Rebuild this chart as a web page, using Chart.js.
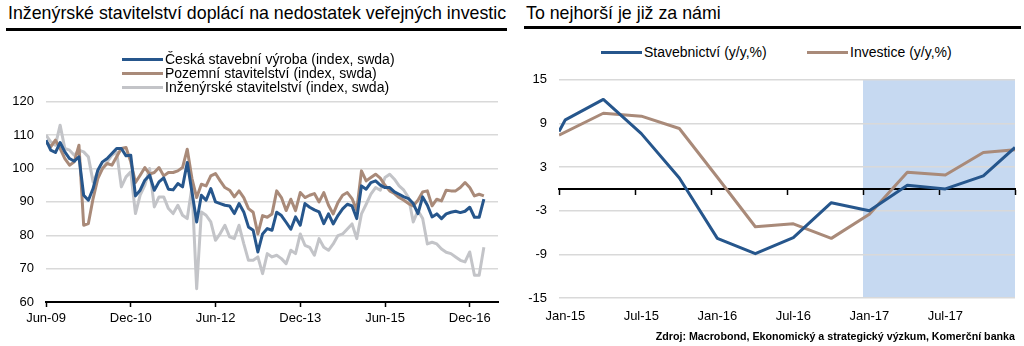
<!DOCTYPE html>
<html>
<head>
<meta charset="utf-8">
<script src="https://cdn.jsdelivr.net/npm/chart.js@4.4.1/dist/chart.umd.min.js"></script>
<style>
  body { margin: 0; width: 1024px; height: 346px; background: #fff; position: relative; overflow: hidden;
         font-family: "Liberation Sans", Arial, sans-serif; color: #000; }
  .title { position: absolute; top: 3px; font-size: 17.8px; line-height: 20px; white-space: nowrap; }
  .rule { position: absolute; height: 3px; background: #000; }
  .leg { position: absolute; font-size: 14px; line-height: 14px; height: 14px; white-space: nowrap; }
  .leg i { position: absolute; left: 0; top: 6px; width: 41px; height: 3px; }
  .leg span { position: absolute; left: 43px; top: 0; }
  .box { position: absolute; }
  .src { position: absolute; right: 9px; top: 330px; font-size: 10.7px; font-weight: bold; line-height: 12px; white-space: nowrap; }
</style>
</head>
<body>
<div class="title" style="left:8px">Inženýrské stavitelství doplácí na nedostatek veřejných investic</div>
<div class="rule" style="left:6px;width:501px;top:28px"></div>
<div class="title" style="left:526px">To nejhorší je již za námi</div>
<div class="rule" style="left:524px;width:497px;top:26px"></div>

<div class="box" style="left:0;top:82px"><canvas id="left" width="512" height="264"></canvas></div>
<div class="box" style="left:512px;top:60px"><canvas id="right" width="512" height="286"></canvas></div>
<div id="legends"></div>
<div class="src">Zdroj: Macrobond, Ekonomický a strategický výzkum, Komerční banka</div>

<script>
// left chart: monthly, Jun-09 .. Mar-17 (index, swda)
const leftTickLabels = ["Jun-09", "Dec-10", "Jun-12", "Dec-13", "Jun-15", "Dec-16"];
const leftTickMonths = [0, 18, 36, 54, 72, 90];
const leftMonthsShown = 96;

const ceska = [
  108.5, 105.5, 104.8, 107.8, 105.0, 103.0, 102.2, 103.5, 92.0, 90.5,
  94.0, 99.5, 102.0, 103.0, 104.5, 106.0, 106.0, 103.8, 104.0, 91.8,
  93.5, 96.5, 98.0, 93.5, 96.0, 97.2, 93.8, 93.6, 95.5, 94.5,
  101.8, 93.0, 84.0, 92.0, 90.5, 94.0, 90.0, 89.5, 89.0, 88.8,
  86.5, 89.5, 87.0, 82.5, 81.5, 75.0, 80.4, 82.0, 81.5, 86.9,
  85.9, 83.9, 81.8, 85.5, 83.0, 89.5, 88.4, 87.6, 87.0, 83.5,
  86.4, 83.4, 85.9, 87.9, 89.3, 88.8, 85.0, 94.8, 93.8, 95.8,
  96.3, 95.0, 94.3, 94.3, 93.0, 92.3, 91.5, 91.0, 89.5, 86.5,
  91.5, 89.0, 85.5, 86.4, 85.0, 86.4, 86.9, 87.2, 86.8, 87.2,
  88.4, 85.4, 85.4, 90.8
];
const pozemni = [
  108.0, 106.5, 108.5, 106.0, 103.0, 101.0, 102.0, 107.0, 83.0, 83.5,
  91.0, 97.0, 100.0, 101.5, 101.0, 103.5, 106.0, 106.3, 102.0, 95.8,
  98.0, 100.3, 98.3, 98.8, 100.3, 97.8, 98.8, 98.8, 99.3, 100.3,
  105.8, 97.0, 91.3, 95.3, 94.8, 97.8, 98.5, 96.3, 94.3, 93.5,
  91.5, 93.3, 91.3, 88.0, 86.9, 80.4, 85.9, 85.4, 86.4, 93.3,
  91.3, 87.4, 90.8, 87.4, 92.8, 91.3, 92.0, 92.5, 90.0, 92.8,
  89.0, 86.4, 89.8, 92.0, 92.8, 91.0, 87.5, 99.3, 96.3, 97.3,
  98.3, 97.1, 95.0, 93.3, 92.5, 91.3, 90.5, 89.5, 88.8, 90.5,
  93.0, 93.3, 88.8, 90.8, 90.3, 93.5, 93.3, 93.3, 94.3, 95.8,
  94.3, 91.8, 92.3, 91.8
];
const inzenyrske = [
  110.0, 108.0, 107.0, 113.0, 106.0, 105.5, 104.0, 105.5, 105.0, 103.5,
  96.0, 99.0, 100.0, 102.0, 104.0, 105.0, 94.5, 97.5, 99.0, 86.5,
  92.0, 95.0, 100.0, 88.5, 91.5, 91.5, 88.0, 86.5, 89.0, 86.0,
  85.0, 94.5, 64.0, 87.0, 86.0, 84.0, 78.5, 80.5, 83.0, 79.5,
  79.0, 83.0, 77.5, 72.5, 72.5, 73.5, 68.5, 74.5, 73.5, 74.0,
  73.0, 71.5, 75.5, 74.5, 80.4, 77.0, 76.4, 74.0, 79.0, 76.4,
  75.5, 77.4, 79.9, 80.4, 81.9, 83.4, 79.0, 86.4, 89.3, 92.3,
  94.3, 93.5, 97.3, 98.3, 96.8, 94.8, 93.5, 91.3, 84.0, 87.4,
  85.0, 77.4, 77.9, 77.4, 75.9, 74.9, 74.5, 73.5, 72.5, 72.0,
  75.0, 68.0, 68.0, 76.4
];

// right chart: quarterly y/y %, x = months since Jan-15
const rightMonths   = [0, 0.5, 3.5, 6.5, 9.5, 12.5, 15.5, 18.5, 21.5, 24.5, 27.5, 30.5, 33.5, 36];
const stavebnictvi  = [7.9, 9.5, 12.3, 7.6, 1.5, -6.8, -8.9, -6.7, -1.9, -3.0, 0.5, 0.0, 1.8, 5.7];
const investice     = [7.4, null, 10.4, 10.0, 8.3, 1.6, -5.2, -4.8, -6.8, -3.5, 2.3, 1.9, 5.0, 5.4];
const rightTickLabels = ["Jan-15", "Jul-15", "Jan-16", "Jul-16", "Jan-17", "Jul-17"];
const rightLabelMonths = [0.5, 6.5, 12.5, 18.5, 24.5, 30.5];
const rightTickMonths = [0, 6, 12, 18, 24, 30, 36];
const forecastFrom = 24;

const BLUE = "#26568c", BROWN = "#a98a79", GREY = "#c3c4c8";
const GRID = "#d9d9d9", SHADE = "#c6d9f1";

Chart.defaults.font.family = '"Liberation Sans", Arial, sans-serif';
Chart.defaults.font.size = 13;
Chart.defaults.color = "#000";

const pts = (xs, ys) => ys.map((y, i) => ({ x: xs[i], y })).filter(p => p.y !== null);
const idx = arr => arr.map((_, i) => i);

const line = (label, color, data) => ({
  label, data, borderColor: color, backgroundColor: color,
  borderWidth: 3, pointRadius: 0, tension: 0, borderJoinStyle: "round", fill: false,
});

// legends as plain text next to short line swatches
const LEGENDS = [
  { x: 122, y: 52, label: "Česká stavební výroba (index, swda)", color: BLUE },
  { x: 122, y: 66, label: "Pozemní stavitelství (index, swda)", color: BROWN },
  { x: 122, y: 80, label: "Inženýrské stavitelství (index, swda)", color: GREY },
  { x: 601, y: 45, label: "Stavebnictví (y/y,%)", color: BLUE },
  { x: 807, y: 45, label: "Investice (y/y,%)", color: BROWN },
];
document.getElementById("legends").innerHTML = LEGENDS.map(l =>
  `<div class="leg" style="left:${l.x}px;top:${l.y}px"><i style="background:${l.color}"></i><span>${l.label}</span></div>`
).join("");

new Chart(document.getElementById("left"), {
  type: "line",
  data: {
    datasets: [
      line("Česká stavební výroba (index, swda)", BLUE, pts(idx(ceska), ceska)),
      line("Pozemní stavitelství (index, swda)", BROWN, pts(idx(pozemni), pozemni)),
      line("Inženýrské stavitelství (index, swda)", GREY, pts(idx(inzenyrske), inzenyrske)),
    ],
  },
  options: {
    responsive: false,
    animation: false,
    devicePixelRatio: 1,
    layout: { padding: { left: 0, right: 14, top: 0, bottom: 0 } },
    plugins: { legend: { display: false }, tooltip: { enabled: false } },
    scales: {
      x: {
        type: "linear", min: 0, max: leftMonthsShown,
        afterBuildTicks: s => { s.ticks = leftTickMonths.map(v => ({ value: v })); },
        afterFit: s => { s.height = 44; },
        ticks: { callback: (v, i) => leftTickLabels[i], autoSkip: false, maxRotation: 0, padding: 4 },
        grid: { drawOnChartArea: false, drawTicks: true, tickLength: 5, tickColor: "#000", tickWidth: 1.5 },
        border: { color: "#000", width: 2 },
      },
      y: {
        min: 60, max: 120,
        afterFit: s => { s.width = 46; },
        ticks: { stepSize: 10, padding: 12 },
        grid: { color: GRID, lineWidth: 1.5, drawTicks: false },
        border: { display: false },
      },
    },
  },
});

const shadePlugin = {
  id: "shade",
  beforeDraw(chart) {
    const { ctx, chartArea: a, scales: { x } } = chart;
    const x0 = x.getPixelForValue(forecastFrom);
    ctx.save();
    ctx.fillStyle = SHADE;
    ctx.fillRect(x0, a.top, a.right - x0, a.bottom - a.top);
    ctx.restore();
  },
};

new Chart(document.getElementById("right"), {
  type: "line",
  data: {
    datasets: [
      line("Stavebnictví (y/y,%)", BLUE, pts(rightMonths, stavebnictvi)),
      line("Investice (y/y,%)", BROWN, pts(rightMonths, investice)),
    ],
  },
  options: {
    responsive: false,
    animation: false,
    devicePixelRatio: 1,
    layout: { padding: { left: 0, right: 9, top: 19, bottom: 0 } },
    plugins: { legend: { display: false }, tooltip: { enabled: false } },
    scales: {
      x: {
        type: "linear", min: 0, max: 36,
        afterBuildTicks: s => { s.ticks = rightLabelMonths.map(v => ({ value: v })); },
        afterFit: s => { s.height = 48; },
        ticks: { callback: (v, i) => rightTickLabels[i], autoSkip: false, maxRotation: 0, padding: 3 },
        grid: { display: false },
        border: { display: false },
      },
      zero: {
        type: "linear", axis: "x", min: 0, max: 36, position: { y: 0 },
        afterBuildTicks: s => { s.ticks = rightTickMonths.map(v => ({ value: v })); },
        ticks: { display: false },
        grid: { drawOnChartArea: false, drawTicks: true, tickLength: 5, tickColor: "#000", tickWidth: 1.5 },
        border: { color: "#000", width: 2 },
      },
      y: {
        min: -15, max: 15,
        afterFit: s => { s.width = 47; },
        ticks: { stepSize: 6, padding: 12 },
        grid: { color: GRID, lineWidth: 1.5, drawTicks: false },
        border: { display: false },
      },
    },
  },
  plugins: [shadePlugin],
});
</script>
</body>
</html>
